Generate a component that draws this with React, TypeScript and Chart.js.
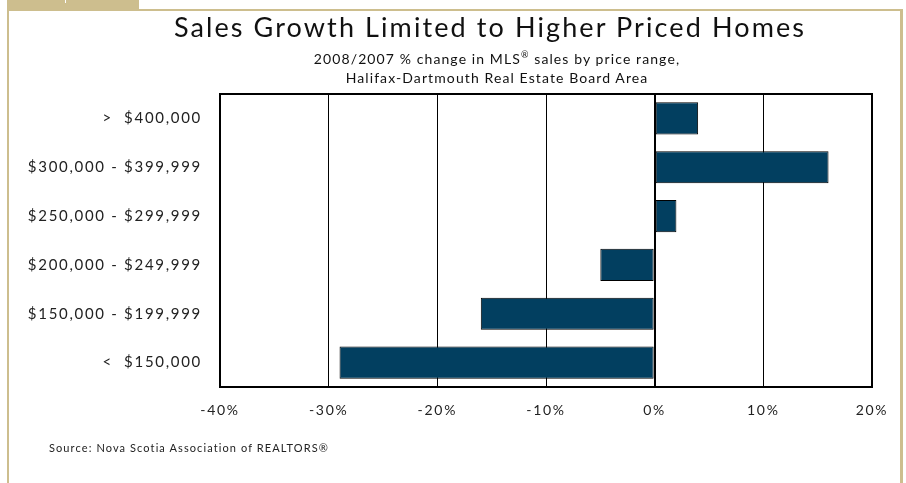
import React, { useEffect, useRef } from "react";
import { Chart, registerables } from "chart.js";

Chart.register(...registerables);

const categories = [
  ">  $400,000",
  "$300,000 - $399,999",
  "$250,000 - $299,999",
  "$200,000 - $249,999",
  "$150,000 - $199,999",
  "<  $150,000",
];
const salesChange = [4, 16, 2, -5, -16, -29];
const xMin = -40;
const xMax = 20;
const xStep = 10;

const titleText = "Sales Growth Limited to Higher Priced Homes";
const subtitleLine1 = "2008/2007 % change in MLS";
const subtitleLine1b = " sales by price range,";
const subtitleLine2 = "Halifax-Dartmouth Real Estate Board Area";
const sourceText = "Source: Nova Scotia Association of REALTORS®";

const FONT = "Lato, 'Open Sans', sans-serif";
const TAN = "#cdbe8e";

const framePlugin = {
  id: "frameBorder",
  beforeDraw(chart: any) {
    (chart.ctx as any).letterSpacing = "1.7px";
  },
  afterDraw(chart: any) {
    const { ctx, chartArea } = chart;
    ctx.save();
    ctx.strokeStyle = "#000";
    ctx.lineWidth = 2;
    ctx.beginPath();
    ctx.moveTo(chartArea.left, chartArea.top);
    ctx.lineTo(chartArea.right, chartArea.top);
    ctx.lineTo(chartArea.right, chartArea.bottom);
    ctx.stroke();
    ctx.restore();
  },
};

export default function App() {
  const canvasRef = useRef<HTMLCanvasElement | null>(null);

  useEffect(() => {
    if (!canvasRef.current) return;
    const chart = new Chart(canvasRef.current, {
      type: "bar",
      data: {
        labels: categories,
        datasets: [
          {
            data: salesChange,
            backgroundColor: "#023f60",
            borderColor: "#000",
            borderWidth: 1,
            borderSkipped: false,
            categoryPercentage: 1,
            barPercentage: 0.66,
          },
        ],
      },
      options: {
        indexAxis: "y",
        responsive: false,
        animation: false,
        devicePixelRatio: 1,
        layout: { padding: { top: 94, left: 0, right: 34, bottom: 56 } },
        plugins: {
          legend: { display: false },
          title: { display: false },
          tooltip: { enabled: false },
        },
        scales: {
          x: {
            min: xMin,
            max: xMax,
            ticks: {
              stepSize: xStep,
              padding: 15,
              color: "#222",
              font: { family: FONT, size: 14 },
              callback: (v: any) => v + "%",
            },
            grid: {
              color: "#000",
              lineWidth: (c: any) => (c.tick && c.tick.value === 0 ? 2 : 1),
              drawTicks: false,
            },
            border: { display: true, color: "#000", width: 2 },
            afterFit: (scale: any) => {
              scale.height = 40;
            },
          },
          y: {
            ticks: {
              padding: 18,
              color: "#222",
              font: { family: FONT, size: 15 },
            },
            grid: { display: false, drawTicks: false },
            border: { display: true, color: "#000", width: 2 },
            afterFit: (scale: any) => {
              scale.width = 220;
            },
          },
        },
      },
      plugins: [framePlugin],
    });
    return () => chart.destroy();
  }, []);

  const abs = (s: React.CSSProperties): React.CSSProperties => ({
    position: "absolute",
    ...s,
  });

  return (
    <div
      style={{
        position: "absolute",
        left: 0,
        top: 0,
        width: 906,
        height: 483,
        background: "#fff",
        overflow: "hidden",
        fontFamily: FONT,
      }}
    >
      <canvas
        ref={canvasRef}
        width={906}
        height={483}
        style={{ position: "absolute", left: 0, top: 0, display: "block" }}
      />
      {/* frame */}
      <div style={abs({ left: 7, top: 0, width: 132, height: 11, background: TAN })} />
      <div style={abs({ left: 65, top: 0, width: 1, height: 3, background: "#fff" })} />
      <div style={abs({ left: 7, top: 9, width: 896, height: 2, background: TAN })} />
      <div style={abs({ left: 7, top: 9, width: 2, height: 474, background: TAN })} />
      <div style={abs({ left: 900, top: 9, width: 3, height: 474, background: TAN })} />
      {/* titles */}
      <div
        style={abs({
          left: 90,
          top: 13,
          width: 800,
          textAlign: "center",
          fontSize: 27,
          lineHeight: "27px",
          letterSpacing: "2.1px",
          color: "#111",
          whiteSpace: "nowrap",
        })}
      >
        {titleText}
      </div>
      <div
        style={abs({
          left: 197,
          top: 49,
          width: 600,
          textAlign: "center",
          fontSize: 14,
          lineHeight: "19px",
          letterSpacing: "1.1px",
          color: "#111",
          whiteSpace: "nowrap",
        })}
      >
        {subtitleLine1}
        <sup style={{ fontSize: 9, verticalAlign: "top", lineHeight: "12px" }}>®</sup>
        {subtitleLine1b}
        <br />
        {subtitleLine2}
      </div>
      <div
        style={abs({
          left: 49,
          top: 441,
          fontSize: 11,
          lineHeight: "13px",
          letterSpacing: "1.1px",
          color: "#222",
          whiteSpace: "nowrap",
        })}
      >
        {sourceText}
      </div>
    </div>
  );
}
